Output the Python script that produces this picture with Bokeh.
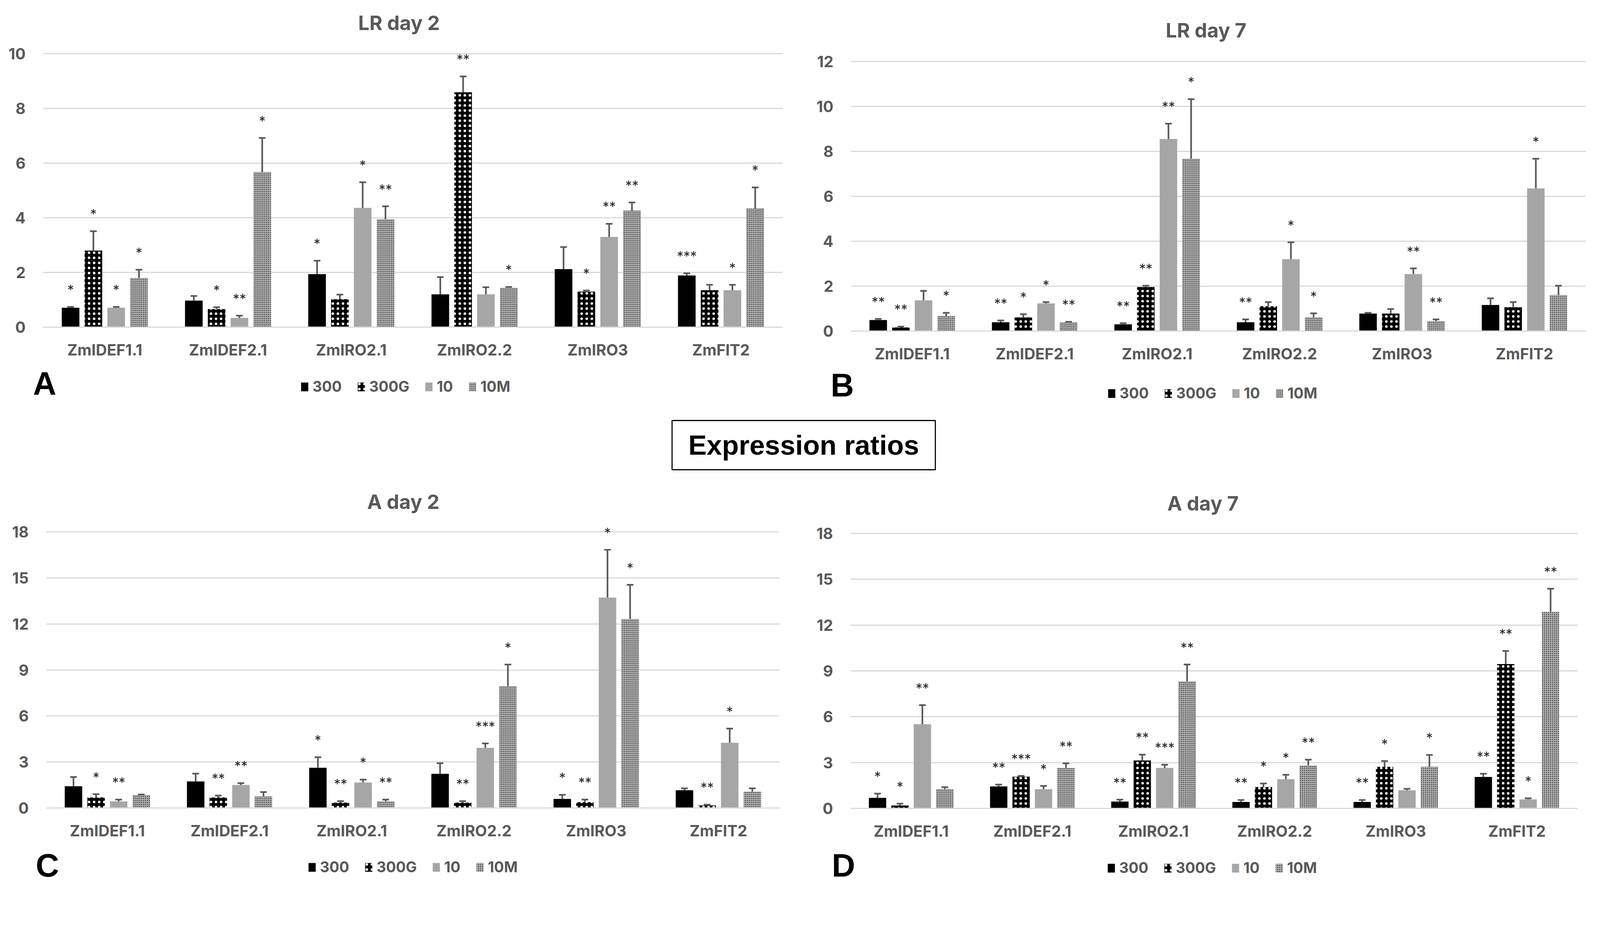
from bokeh.plotting import figure
from bokeh.models import (ColumnDataSource, FixedTicker, Whisker, TeeHead, Legend,
                          LegendItem, Range1d)
from bokeh.layouts import column, row
from bokeh.embed import file_html
from bokeh.resources import INLINE
from bokeh.core.properties import value

genes = ["ZmIDEF1.1", "ZmIDEF2.1", "ZmIRO2.1", "ZmIRO2.2", "ZmIRO3", "ZmFIT2"]
series_names = ["300", "300G", "10", "10M"]

# ---- Panel A: LR day 2 ----
a_300 = [0.71, 0.97, 1.94, 1.20, 2.12, 1.89]
a_300_se = [0.03, 0.17, 0.49, 0.63, 0.81, 0.08]
a_300_sig = ["*", "", "*", "", "", "***"]
a_300g = [2.80, 0.66, 1.02, 8.59, 1.30, 1.35]
a_300g_se = [0.71, 0.07, 0.17, 0.58, 0.04, 0.20]
a_300g_sig = ["*", "*", "", "**", "*", ""]
a_10 = [0.71, 0.34, 4.36, 1.20, 3.30, 1.35]
a_10_se = [0.03, 0.08, 0.94, 0.26, 0.48, 0.20]
a_10_sig = ["*", "**", "*", "", "**", "*"]
a_10m = [1.80, 5.67, 3.95, 1.44, 4.26, 4.34]
a_10m_se = [0.30, 1.25, 0.47, 0.03, 0.30, 0.77]
a_10m_sig = ["*", "*", "**", "*", "**", "*"]

# ---- Panel B: LR day 7 ----
b_300 = [0.49, 0.39, 0.30, 0.39, 0.78, 1.16]
b_300_se = [0.05, 0.08, 0.05, 0.13, 0.03, 0.30]
b_300_sig = ["**", "**", "**", "**", "", ""]
b_300g = [0.16, 0.61, 1.96, 1.11, 0.78, 1.06]
b_300g_se = [0.04, 0.14, 0.06, 0.18, 0.20, 0.23]
b_300g_sig = ["**", "*", "**", "", "", ""]
b_10 = [1.37, 1.23, 8.55, 3.20, 2.54, 6.35]
b_10_se = [0.42, 0.06, 0.68, 0.75, 0.25, 1.32]
b_10_sig = ["", "*", "**", "*", "**", "*"]
b_10m = [0.67, 0.39, 7.67, 0.61, 0.44, 1.60]
b_10m_se = [0.14, 0.02, 2.65, 0.18, 0.08, 0.42]
b_10m_sig = ["*", "**", "*", "*", "**", ""]

# ---- Panel C: A day 2 ----
c_300 = [1.42, 1.73, 2.62, 2.23, 0.59, 1.16]
c_300_se = [0.60, 0.51, 0.69, 0.69, 0.27, 0.12]
c_300_sig = ["", "", "*", "", "*", ""]
c_300g = [0.69, 0.69, 0.35, 0.35, 0.38, 0.17]
c_300g_se = [0.21, 0.12, 0.10, 0.10, 0.17, 0.05]
c_300g_sig = ["*", "**", "**", "**", "**", "**"]
c_10 = [0.43, 1.50, 1.66, 3.92, 13.72, 4.25]
c_10_se = [0.12, 0.12, 0.19, 0.29, 3.11, 0.93]
c_10_sig = ["**", "**", "*", "***", "*", "*"]
c_10m = [0.85, 0.76, 0.43, 7.94, 12.32, 1.07]
c_10m_se = [0.03, 0.28, 0.12, 1.41, 2.23, 0.21]
c_10m_sig = ["", "", "**", "*", "*", ""]

# ---- Panel D: A day 7 ----
d_300 = [0.69, 1.44, 0.45, 0.42, 0.42, 2.06]
d_300_se = [0.28, 0.12, 0.12, 0.13, 0.13, 0.21]
d_300_sig = ["*", "**", "**", "**", "**", "**"]
d_300g = [0.19, 2.08, 3.14, 1.40, 2.72, 9.45]
d_300g_se = [0.12, 0.05, 0.38, 0.23, 0.38, 0.86]
d_300g_sig = ["*", "***", "**", "*", "*", "**"]
d_10 = [5.51, 1.26, 2.65, 1.91, 1.18, 0.59]
d_10_se = [1.25, 0.21, 0.21, 0.29, 0.10, 0.07]
d_10_sig = ["**", "*", "***", "*", "", "*"]
d_10m = [1.26, 2.65, 8.32, 2.81, 2.72, 12.86]
d_10m_se = [0.13, 0.30, 1.10, 0.38, 0.78, 1.52]
d_10m_sig = ["", "**", "**", "**", "*", "**"]

panel_titles = ["LR day 2", "LR day 7", "A day 2", "A day 7"]
panel_letters = ["A", "B", "C", "D"]
middle_title = "Expression ratios"

# ---- styling (sizes given in reference-image pixels, scaled to CSS px) ----
S = 4096 / 4363


def s(v):
    return int(round(v * S))


def fs(v):
    return f"{v * S:.1f}px"


GRAY_TXT = "#595959"
GRID = "#d9d9d9"
ERR = "#595959"
FONT = "Inter"
BAR_W = 0.143
STEP = 0.185
OFFSETS = [-1.5 * STEP, -0.5 * STEP, 0.5 * STEP, 1.5 * STEP]
TOP_PAD = 32  # px of frame kept above the top gridline (room for stars / top label)
STYLE = {
    "300": dict(fill_color="black"),
    "300G": dict(fill_color="black", hatch_pattern="dot", hatch_color="white",
                 hatch_scale=s(14), hatch_weight=2),
    "10": dict(fill_color="#a6a6a6"),
    "10M": dict(fill_color="#b0b0b0", hatch_pattern="dot", hatch_color="#1a1a1a",
                hatch_scale=s(5), hatch_weight=1.8),
}


def blank_fig(width, height):
    W, H = s(width), s(height)
    f = figure(width=W, height=H, x_range=Range1d(0, W), y_range=Range1d(0, H),
               toolbar_location=None, output_backend="svg", min_border=0,
               outline_line_color=None, x_axis_location=None, y_axis_location=None,
               frame_align=False)
    f.grid.visible = False
    return f


def make_header(title, width, height, tx, ty):
    f = blank_fig(width, height)
    f.text(x=[s(tx)], y=[s(ty)], text=[title], text_align="center",
           text_baseline="middle", text_font=value(FONT), text_font_size=fs(54),
           text_font_style="bold", text_color=GRAY_TXT)
    return f


def make_panel(data, ymax, ystep, width, height, bl, br, bb):
    grid_px = height - TOP_PAD - bb
    ytop = ymax * (1 + TOP_PAD / grid_px)
    p = figure(width=s(width), height=s(height), x_range=Range1d(-0.5, 5.5),
               y_range=Range1d(0, ytop), toolbar_location=None, output_backend="svg",
               min_border_left=s(bl), min_border_right=s(br), min_border_top=0,
               min_border_bottom=s(bb), outline_line_color=None, frame_align=False)

    for k, (name, mean, se, sig) in enumerate(data):
        x = [i + OFFSETS[k] for i in range(len(genes))]
        upper = [m + e for m, e in zip(mean, se)]
        src = ColumnDataSource(dict(x=x, top=mean, upper=upper, sig=sig))
        p.vbar(x="x", top="top", width=BAR_W, source=src, line_color=None,
               **STYLE[name])
        w = Whisker(source=src, base="x", upper="upper", lower="top",
                    dimension="height", line_color=ERR, line_width=4.5 * S,
                    upper_head=TeeHead(size=s(18), line_color=ERR, line_width=4.5 * S),
                    lower_head=None, level="annotation")
        p.add_layout(w)
        p.text(x="x", y="upper", text="sig", source=src, text_align="center",
               text_baseline="alphabetic", y_offset=-s(47), text_font=value(FONT),
               text_font_size=fs(36), text_color="#262626")

    p.xaxis.ticker = FixedTicker(ticks=list(range(len(genes))))
    p.xaxis.major_label_overrides = {i: g for i, g in enumerate(genes)}
    p.yaxis.ticker = FixedTicker(ticks=list(range(0, ymax + 1, ystep)))
    for ax in (p.xaxis, p.yaxis):
        ax.major_tick_line_color = None
        ax.minor_tick_line_color = None
        ax.major_label_text_font = FONT
        ax.major_label_text_font_size = fs(42)
        ax.major_label_text_font_style = "bold"
        ax.major_label_text_color = GRAY_TXT
    p.xaxis.axis_line_color = GRID
    p.xaxis.axis_line_width = 3 * S
    p.yaxis.axis_line_color = None
    p.xaxis.major_label_standoff = s(30)
    p.yaxis.major_label_standoff = s(42)
    p.xgrid.grid_line_color = None
    p.ygrid.grid_line_color = GRID
    p.ygrid.grid_line_width = 3 * S
    return p


def make_footer(letter, width, height, legend_xy, letter_xy):
    f = blank_fig(width, height)
    items = []
    for name in series_names:
        # zero-height proxy bar: only its legend swatch is visible
        r = f.vbar(x=[0], top=[0], bottom=[0], width=1, line_color=None, **STYLE[name])
        items.append(LegendItem(label=name, renderers=[r]))
    legend = Legend(items=items, orientation="horizontal",
                    location=(s(legend_xy[0]), s(legend_xy[1])),
                    label_text_font=FONT, label_text_font_size=fs(40),
                    label_text_font_style="bold", label_text_color=GRAY_TXT,
                    glyph_width=s(24), glyph_height=s(30), label_standoff=s(10),
                    spacing=s(40), padding=0, margin=0, border_line_color=None,
                    background_fill_alpha=0)
    f.add_layout(legend)
    f.text(x=[s(letter_xy[0])], y=[s(letter_xy[1])], text=[letter], text_align="left",
           text_baseline="middle", text_font=value("Liberation Sans"),
           text_font_size=fs(88), text_font_style="bold", text_color="black")
    return f


WL, WR = 2222, 2125

ha = make_header(panel_titles[0], WL, 114, 1088, 52)
hb = make_header(panel_titles[1], WR, 135, 1066, 53)
hc = make_header(panel_titles[2], WL, 126, 1099, 50)
hd = make_header(panel_titles[3], WR, 130, 1058, 50)

pa = make_panel([("300", a_300, a_300_se, a_300_sig), ("300G", a_300g, a_300g_se, a_300g_sig),
                 ("10", a_10, a_10_se, a_10_sig), ("10M", a_10m, a_10m_se, a_10m_sig)],
                10, 2, WL, 878, 117, 88, 100)
pb = make_panel([("300", b_300, b_300_se, b_300_sig), ("300G", b_300g, b_300g_se, b_300g_sig),
                 ("10", b_10, b_10_se, b_10_sig), ("10M", b_10m, b_10m_se, b_10m_sig)],
                12, 2, WR, 857, 96, 23, 84)
pc = make_panel([("300", c_300, c_300_se, c_300_sig), ("300G", c_300g, c_300g_se, c_300g_sig),
                 ("10", c_10, c_10_se, c_10_sig), ("10M", c_10m, c_10m_se, c_10m_sig)],
                18, 3, WL, 885, 126, 97, 100)
pd_ = make_panel([("300", d_300, d_300_se, d_300_sig), ("300G", d_300g, d_300g_se, d_300g_sig),
                  ("10", d_10, d_10_se, d_10_sig), ("10M", d_10m, d_10m_se, d_10m_sig)],
                 18, 3, WR, 881, 85, 46, 99)

fa = make_footer(panel_letters[0], WL, 110, (818, 23), (90, 55))
fb = make_footer(panel_letters[1], WR, 110, (797, 6), (43, 52))
fc = make_footer(panel_letters[2], WL, 109, (838, 23), (97, 52))
fd = make_footer(panel_letters[3], WR, 109, (796, 21), (46, 52))

# middle banner
pm = blank_fig(WL + WR, 190)
pm.quad(left=[s(1832)], right=[s(2550)], bottom=[s(12)], top=[s(146)],
        fill_color="white", line_color="black", line_width=3 * S)
pm.text(x=[s(2191)], y=[s(79)], text=[middle_title], text_align="center",
        text_baseline="middle", text_font=value("Liberation Sans"),
        text_font_size=fs(75), text_font_style="bold", text_color="black")

layout = column(row(column(ha, pa, fa), column(hb, pb, fb)), pm,
                row(column(hc, pc, fc), column(hd, pd_, fd)))
open("out.html", "w").write(file_html(layout, INLINE))
